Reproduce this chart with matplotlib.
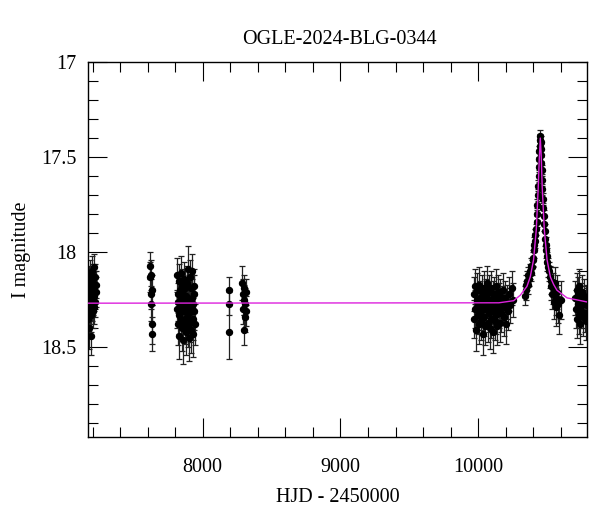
import numpy as np
from matplotlib import pyplot as plt
from matplotlib.ticker import MultipleLocator, FuncFormatter

# OGLE photometry, rows of (HJD - 2450000, I mag, error), per season
season_a = [
    (7166, 18.28, 0.09), (7168, 18.20, 0.08), (7170, 18.35, 0.10), (7172, 18.15, 0.08),
    (7174, 18.24, 0.09), (7176, 18.40, 0.11), (7178, 18.18, 0.08), (7180, 18.30, 0.09),
    (7182, 18.12, 0.08), (7184, 18.26, 0.09), (7186, 18.22, 0.08), (7188, 18.44, 0.10),
    (7190, 18.16, 0.08), (7192, 18.33, 0.09), (7194, 18.21, 0.08), (7196, 18.10, 0.08),
    (7198, 18.27, 0.09), (7200, 18.19, 0.08), (7202, 18.31, 0.09), (7204, 18.14, 0.08),
    (7206, 18.25, 0.08), (7208, 18.08, 0.07), (7210, 18.29, 0.09), (7212, 18.18, 0.08),
    (7214, 18.23, 0.08), (7217, 18.13, 0.07), (7220, 18.26, 0.08), (7224, 18.17, 0.07),
    (7228, 18.21, 0.08),
]
season_b = [
    (7618, 18.07, 0.07), (7620, 18.13, 0.08), (7622, 18.12, 0.08), (7624, 18.22, 0.08),
    (7626, 18.27, 0.09), (7628, 18.38, 0.10), (7630, 18.43, 0.09), (7632, 18.20, 0.08),
]
season_c = [
    (7812, 18.30, 0.10), (7815, 18.12, 0.09), (7818, 18.22, 0.10), (7820, 18.38, 0.11),
    (7823, 18.26, 0.10), (7826, 18.15, 0.09), (7828, 18.33, 0.10), (7831, 18.44, 0.12),
    (7834, 18.20, 0.09), (7836, 18.28, 0.10), (7839, 18.11, 0.09), (7842, 18.35, 0.11),
    (7844, 18.24, 0.10), (7847, 18.30, 0.10), (7850, 18.18, 0.09), (7852, 18.40, 0.12),
    (7855, 18.27, 0.10), (7858, 18.22, 0.10), (7860, 18.46, 0.13), (7863, 18.14, 0.09),
    (7866, 18.31, 0.10), (7868, 18.25, 0.10), (7871, 18.37, 0.11), (7874, 18.19, 0.09),
    (7876, 18.29, 0.10), (7879, 18.42, 0.12), (7882, 18.23, 0.10), (7884, 18.34, 0.11),
    (7887, 18.16, 0.09), (7890, 18.27, 0.10), (7892, 18.39, 0.11), (7895, 18.09, 0.12),
    (7898, 18.32, 0.10), (7900, 18.45, 0.12), (7903, 18.25, 0.10), (7906, 18.13, 0.09),
    (7908, 18.36, 0.11), (7911, 18.28, 0.10), (7914, 18.19, 0.09), (7916, 18.41, 0.12),
    (7919, 18.30, 0.10), (7922, 18.24, 0.10), (7924, 18.10, 0.09), (7927, 18.35, 0.11),
    (7930, 18.27, 0.10), (7932, 18.43, 0.12), (7935, 18.22, 0.10), (7938, 18.31, 0.10),
    (7940, 18.18, 0.09), (7943, 18.38, 0.11),
]
season_d = [
    (8189, 18.20, 0.07), (8191, 18.27, 0.06), (8193, 18.42, 0.14),
]
season_e = [
    (8288, 18.16, 0.09), (8291, 18.30, 0.08), (8294, 18.22, 0.08), (8297, 18.41, 0.08),
    (8300, 18.25, 0.08), (8303, 18.19, 0.07), (8306, 18.34, 0.08), (8309, 18.27, 0.08),
    (8312, 18.21, 0.07), (8316, 18.31, 0.08),
]
season_f = [
    (9968, 18.22, 0.09), (9972, 18.35, 0.10), (9976, 18.18, 0.09), (9980, 18.30, 0.10),
    (9984, 18.41, 0.11), (9988, 18.25, 0.09), (9992, 18.20, 0.09), (9996, 18.33, 0.10),
    (10000, 18.27, 0.09), (10004, 18.38, 0.10), (10008, 18.17, 0.09), (10012, 18.29, 0.10),
    (10016, 18.24, 0.09), (10020, 18.36, 0.10), (10024, 18.31, 0.10), (10028, 18.21, 0.09),
    (10032, 18.43, 0.11), (10036, 18.26, 0.09), (10040, 18.19, 0.09), (10044, 18.34, 0.10),
    (10048, 18.28, 0.09), (10052, 18.39, 0.10), (10056, 18.23, 0.09), (10060, 18.30, 0.10),
    (10064, 18.16, 0.09), (10068, 18.37, 0.10), (10072, 18.25, 0.09), (10076, 18.32, 0.10),
    (10080, 18.21, 0.09), (10084, 18.40, 0.11), (10088, 18.27, 0.09), (10092, 18.19, 0.09),
    (10096, 18.35, 0.10), (10100, 18.29, 0.09), (10104, 18.24, 0.09), (10108, 18.42, 0.11),
    (10112, 18.31, 0.10), (10116, 18.22, 0.09), (10120, 18.28, 0.09), (10124, 18.36, 0.10),
    (10128, 18.18, 0.09), (10132, 18.33, 0.10), (10136, 18.26, 0.09), (10140, 18.39, 0.10),
    (10144, 18.21, 0.09), (10148, 18.30, 0.10), (10152, 18.25, 0.09), (10156, 18.37, 0.10),
    (10160, 18.23, 0.09), (10166, 18.32, 0.10), (10172, 18.27, 0.09), (10178, 18.20, 0.09),
    (10184, 18.34, 0.10), (10190, 18.29, 0.09), (10196, 18.24, 0.09), (10202, 18.38, 0.10),
    (10210, 18.26, 0.09), (10218, 18.31, 0.10), (10226, 18.22, 0.09), (10234, 18.28, 0.09),
    (10242, 18.19, 0.09), (10250, 18.25, 0.09),
]
season_event = [
    (10340, 18.23, 0.05), (10345, 18.17, 0.05), (10350, 18.20, 0.05), (10355, 18.15, 0.05),
    (10360, 18.17, 0.05), (10365, 18.12, 0.04), (10370, 18.14, 0.04), (10375, 18.10, 0.04),
    (10380, 18.11, 0.04), (10385, 18.07, 0.04), (10390, 18.08, 0.04), (10395, 18.04, 0.04),
    (10400, 18.03, 0.04), (10404, 17.99, 0.04), (10408, 17.96, 0.04), (10412, 17.94, 0.04),
    (10416, 17.91, 0.03), (10420, 17.88, 0.03), (10424, 17.84, 0.03), (10427, 17.80, 0.03),
    (10430, 17.75, 0.03), (10433, 17.70, 0.03), (10436, 17.65, 0.03), (10439, 17.60, 0.03),
    (10441, 17.55, 0.03), (10443, 17.51, 0.03), (10445, 17.47, 0.03), (10447, 17.44, 0.03),
    (10449, 17.41, 0.03), (10451, 17.39, 0.03), (10453, 17.42, 0.03), (10455, 17.46, 0.03),
    (10457, 17.49, 0.03), (10459, 17.53, 0.03), (10461, 17.57, 0.03), (10463, 17.62, 0.03),
    (10466, 17.67, 0.03), (10469, 17.72, 0.03), (10472, 17.77, 0.03), (10475, 17.81, 0.03),
    (10478, 17.85, 0.04), (10482, 17.89, 0.04), (10486, 17.93, 0.04), (10490, 17.96, 0.04),
    (10494, 17.99, 0.04), (10498, 18.02, 0.04), (10503, 18.05, 0.05), (10508, 18.08, 0.05),
    (10514, 18.10, 0.05), (10520, 18.13, 0.06), (10526, 18.18, 0.07), (10532, 18.15, 0.07),
    (10538, 18.22, 0.08), (10544, 18.19, 0.08), (10550, 18.26, 0.09), (10556, 18.16, 0.08),
    (10562, 18.24, 0.09), (10568, 18.29, 0.10), (10574, 18.21, 0.09), (10580, 18.27, 0.10),
    (10590, 18.33, 0.10), (10600, 18.25, 0.10),
]
season_g = [
    (10706, 18.24, 0.09), (10710, 18.30, 0.10), (10714, 18.20, 0.09), (10718, 18.35, 0.10),
    (10722, 18.27, 0.09), (10726, 18.22, 0.09), (10730, 18.33, 0.10), (10734, 18.18, 0.09),
    (10738, 18.29, 0.09), (10742, 18.38, 0.10), (10746, 18.25, 0.09), (10750, 18.31, 0.09),
    (10755, 18.21, 0.09), (10760, 18.34, 0.10), (10765, 18.27, 0.09), (10770, 18.23, 0.09),
    (10775, 18.32, 0.10), (10780, 18.26, 0.09), (10785, 18.36, 0.10), (10790, 18.28, 0.09),
]

# model light curve
model_t = [7164, 10150, 10257, 10306, 10354, 10378, 10402, 10422, 10436, 10444, 10451,
           10458, 10465, 10480, 10500, 10524, 10548, 10572, 10645, 10793]
model_m = [18.268, 18.266, 18.255, 18.226, 18.18, 18.13, 18.04, 17.88, 17.66, 17.50, 17.40,
           17.50, 17.66, 17.88, 18.04, 18.13, 18.17, 18.20, 18.24, 18.262]

title = "OGLE-2024-BLG-0344"

plt.rcParams['font.family'] = ['Liberation Serif', 'DejaVu Serif']
fig = plt.figure(figsize=(6.0, 5.12), dpi=100)
ax = fig.add_axes([0.146, 0.147, 0.833, 0.732])

for season in [season_a, season_b, season_c, season_d, season_e, season_f, season_event, season_g]:
    t, m, e = np.array(season).T
    ax.errorbar(t, m, yerr=e, fmt='o', color='black', ms=4.3, ecolor='#222222',
                elinewidth=0.9, capsize=2.5, capthick=0.9, zorder=2)

ax.plot(model_t, model_m, color='#dd22dd', lw=1.0, zorder=3)

ax.set_xlim(7164, 10793)
ax.set_ylim(18.97, 17.0)

ax.xaxis.set_major_locator(MultipleLocator(1000))
ax.xaxis.set_minor_locator(MultipleLocator(200))
ax.yaxis.set_major_locator(MultipleLocator(0.5))
ax.yaxis.set_minor_locator(MultipleLocator(0.1))
ax.yaxis.set_major_formatter(FuncFormatter(lambda v, p: '%g' % v))
ax.tick_params(which='both', direction='in', top=True, right=True, labelsize=14.5, width=0.8)
ax.tick_params(which='major', length=14)
ax.tick_params(which='minor', length=7)
ax.tick_params(axis='x', which='major', pad=15)
ax.tick_params(axis='y', which='major', pad=8)
for s in ax.spines.values():
    s.set_linewidth(1.0)

fig.text(339 / 600, 1 - 40 / 512, title, ha='center', va='center', fontsize=14.5)
fig.text(338 / 600, 1 - 498 / 512, "HJD - 2450000", ha='center', va='center', fontsize=14.5)
fig.text(22 / 600, 1 - 250 / 512, "I magnitude", ha='center', va='center', rotation=90, fontsize=14.5)

fig.savefig('out.png', dpi=100)
